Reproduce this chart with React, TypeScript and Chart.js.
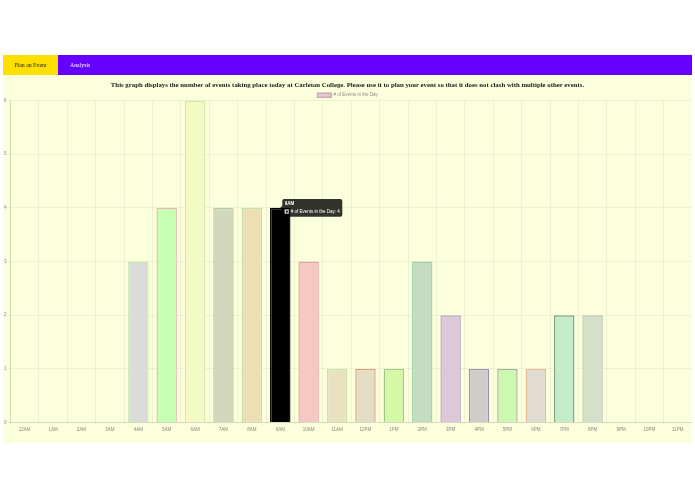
import { useEffect, useRef } from "react"
import { Chart, registerables } from "chart.js"

Chart.register(...registerables)

const hours = [
  "12AM", "1AM", "2AM", "3AM", "4AM", "5AM", "6AM", "7AM", "8AM", "9AM", "10AM", "11AM",
  "12PM", "1PM", "2PM", "3PM", "4PM", "5PM", "6PM", "7PM", "8PM", "9PM", "10PM", "11PM",
]
const eventCounts = [0, 0, 0, 0, 3, 4, 6, 4, 4, 4, 3, 1, 1, 1, 3, 2, 1, 1, 1, 2, 2, 0, 0, 0]
const fillColors = [
  "#e2c8d0", "#d8d8d8", "#d8d8d8", "#d8d8d8", "#d9dcd9", "#c6ffb4", "#f4fac4", "#d2d8be",
  "#ecdfb4", "#ddd5c0", "#f6c8c4", "#e9e2c0", "#e4dcc4", "#d4f8a8", "#c4dcc0", "#dcc8d8",
  "#d0cccc", "#ccf8b0", "#e0dcd4", "#c4ecc8", "#d4e0c8", "#d8d8d8", "#d8d8d8", "#d8d8d8",
]
const borderColors = [
  "#d0a8b8", "#c0c0c0", "#c0c0c0", "#c0c0c0", "#c8e8b0", "#e8b8b0", "#d8e8a8", "#b8c8a8",
  "#c8e0a8", "#a8a8a8", "#e0a8a0", "#c8e4a8", "#d8a080", "#a0c888", "#a0d0a8", "#b8a0c8",
  "#a090b0", "#a0b0a0", "#e8b890", "#80a080", "#c0c0c0", "#c0c0c0", "#c0c0c0", "#c0c0c0",
]

const pageBg = "#fbffdc"
const font = "Liberation Sans"

// the legend sits closer to the plot than chart.js allows, so report it shorter to the layout
const tightLegend = {
  id: "tightLegend",
  beforeLayout(chart: any) {
    const legend = chart.legend
    if (!legend || legend._tight) return
    const fit = legend.fit
    legend.fit = function () {
      fit.call(this)
      this.height -= 7
    }
    legend._tight = true
  },
}

export default function App() {
  const canvasRef = useRef<HTMLCanvasElement>(null)

  useEffect(() => {
    if (!canvasRef.current) return
    const chart = new Chart(canvasRef.current, {
      type: "bar",
      data: {
        labels: hours,
        datasets: [
          {
            label: "# of Events in the Day",
            data: eventCounts,
            backgroundColor: fillColors,
            borderColor: borderColors,
            borderWidth: 1.4,
            hoverBackgroundColor: "#000000",
            hoverBorderColor: "#000000",
          },
        ],
      },
      options: {
        animation: false,
        responsive: false,
        scales: {
          x: {
            grid: { color: "rgba(0,0,0,0.05)", tickLength: 3 },
            ticks: { font: { size: 4.5, family: font }, color: "#8a8a80", maxRotation: 0, autoSkip: false, padding: 1 },
          },
          y: {
            beginAtZero: true,
            max: 6,
            grid: { color: "rgba(0,0,0,0.05)", tickLength: 3 },
            ticks: { stepSize: 1, font: { size: 4.5, family: font }, color: "#8a8a80", padding: 1 },
          },
        },
        plugins: {
          legend: {
            labels: { font: { size: 4.5, family: font }, color: "#8a8a80", boxWidth: 14, boxHeight: 4, padding: 1 },
          },
          tooltip: {
            backgroundColor: "rgba(0,0,0,0.8)",
            titleFont: { size: 4.5, family: font, weight: "bold" },
            bodyFont: { size: 4.5, family: font },
            padding: 2.5,
            caretSize: 2,
            caretPadding: 0,
            cornerRadius: 2,
            boxWidth: 4,
            boxHeight: 4,
            titleMarginBottom: 2,
            callbacks: {
              labelColor: () => ({ backgroundColor: "#000000", borderColor: "#888888", borderWidth: 0.5 }),
            },
          },
        },
      },
      plugins: [tightLegend],
    })

    // the reference shows the 9AM bar hovered
    const active = [{ datasetIndex: 0, index: 9 }]
    chart.setActiveElements(active)
    chart.tooltip?.setActiveElements(active, { x: 281, y: 118 })
    chart.update()

    return () => chart.destroy()
  }, [])

  return (
    <div style={{ position: "absolute", left: 0, top: 0, width: 695, height: 494, background: "#fff", overflow: "hidden", fontFamily: "Liberation Serif" }}>
      <div style={{ position: "absolute", left: 3, top: 55, width: 689, height: 388, background: pageBg }} />
      <div style={{ position: "absolute", left: 3, top: 55, width: 689, height: 20, background: "#6600ff" }} />
      <div style={{ position: "absolute", left: 3, top: 55, width: 55, height: 20, lineHeight: "20px", background: "#ffdf00", color: "#222", fontSize: 5.8, textAlign: "center", willChange: "transform" }}>
        Plan an Event
      </div>
      <div style={{ position: "absolute", left: 70, top: 55, height: 20, lineHeight: "20px", color: "#fff", fontSize: 5.8, willChange: "transform" }}>
        Analysis
      </div>
      <div style={{ position: "absolute", left: 3, top: 79, width: 689, textAlign: "center", fontSize: 6.8, lineHeight: "12px", fontWeight: "bold", color: "#222", willChange: "transform" }}>
        This graph displays the number of events taking place today at Carleton College. Please use it to plan your event so that it does not clash with multiple other events.
      </div>
      <canvas ref={canvasRef} width={689} height={341} style={{ position: "absolute", left: 3, top: 92, width: 689, height: 341 }} />
    </div>
  )
}
